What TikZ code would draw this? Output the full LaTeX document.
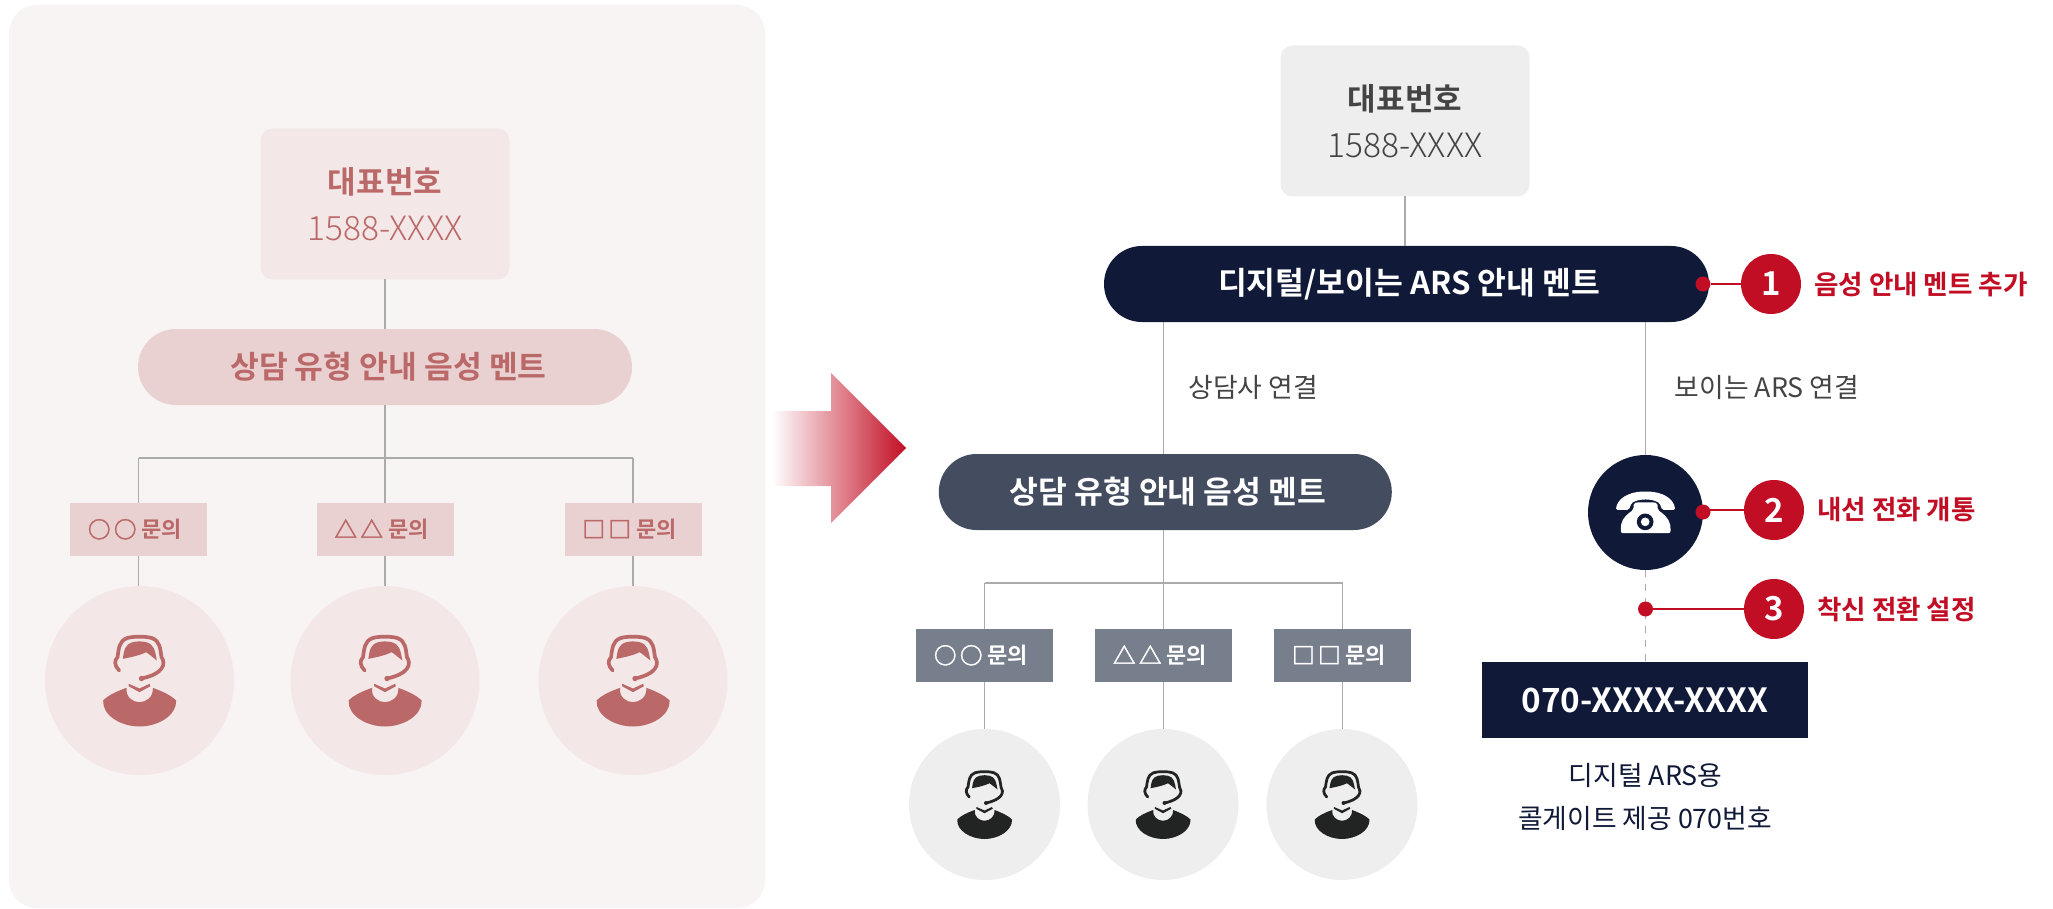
\documentclass[tikz,border=0pt]{standalone}
\usepackage{fontspec}
\setmainfont[BoldFont={Noto Sans CJK KR Bold}]{Noto Sans CJK KR}
\newfontfamily\lightfont{Noto Sans CJK KR Light}
\newfontfamily\symbolfont[FakeBold=1.5]{Noto Sans CJK KR}
\definecolor{panelbg}{HTML}{F8F4F3}
\definecolor{softbox}{HTML}{F3E7E7}
\definecolor{softpill}{HTML}{E9D1D1}
\definecolor{rosetext}{HTML}{BA6868}
\definecolor{linegray}{HTML}{ABABAB}
\definecolor{greybox}{HTML}{EEEEEE}
\definecolor{darktext}{HTML}{444444}
\definecolor{navy}{HTML}{101A38}
\definecolor{slate}{HTML}{434D5F}
\definecolor{slatebox}{HTML}{777E8C}
\definecolor{icondark}{HTML}{222423}
\definecolor{accent}{HTML}{C20E24}
\newcommand{\fs}[1]{\fontsize{#1}{#1}\selectfont}
\newcommand{\tagtext}[2]{{\symbolfont\fs{22.7}#1\hspace{3.3pt}#1}\hspace{5pt}#2\hspace*{7pt}}
\newcommand{\numbertext}{{\lightfont\fs{33.5}1588-XXXX}}
\tikzset{
  plainbox/.style={inner sep=0pt,outer sep=0pt,align=center},
  mainbox/.style={plainbox,rounded corners=12pt,minimum width=249pt,minimum height=151pt,font=\fontsize{31}{49}\selectfont},
  headpill/.style={plainbox,rounded corners=37.9pt,minimum height=76pt,font=\bfseries\fs{31.3}},
  tagbox/.style={plainbox,minimum width=137pt,minimum height=53pt,font=\bfseries\fs{22}},
  agentdisc/.style={circle,plainbox},
  connect/.style={draw=linegray,line width=1.3pt},
  dotmark/.style={circle,fill=accent,inner sep=0pt,outer sep=0pt,minimum size=15pt},
  numdisc/.style={circle,fill=accent,text=white,inner sep=0pt,outer sep=0pt,minimum size=60pt,font=\bfseries\fs{33}},
  redlabel/.style={inner sep=0pt,outer sep=0pt,anchor=west,text=accent,font=\bfseries\fs{26.6}},
  redline/.style={draw=accent,line width=2pt},
  graytext/.style={inner sep=0pt,text=darktext,font=\fs{26.8}},
}
\newcommand{\agentglyph}[3]{%
\begin{scope}[shift={(#1.center)},x=#2pt,y=-#2pt,fill=#3,draw=#3]
  \fill (-39,22) .. controls (-70,33) and (-95,45) .. (-109,60) .. controls (-112,105) and (-55,138) .. (0,138) .. controls (55,138) and (112,105) .. (110,60) .. controls (95,45) and (70,33) .. (40,22) .. controls (42,50) and (20,65) .. (0,65) .. controls (-20,65) and (-42,50) .. (-39,22) -- cycle;
  \fill (-32,10) -- (0,24) -- (30,10) -- (33,17) -- (0,35) -- (-33,17) -- cycle;
  \fill (-50,-65) .. controls (-46,-92) and (-44,-108) .. (-20,-115) .. controls (-5,-118) and (5,-118) .. (20,-115) .. controls (44,-108) and (46,-92) .. (52,-60) .. controls (40,-70) and (30,-78) .. (20,-85) .. controls (0,-75) and (-25,-70) .. (-50,-65) -- cycle;
  \draw[line width=#2*11pt,line cap=round] (-61,-30) .. controls (-76,-45) and (-76,-60) .. (-66,-70) .. controls (-62,-95) and (-62,-118) .. (-38,-127) .. controls (-20,-133) and (20,-133) .. (38,-127) .. controls (62,-118) and (62,-95) .. (66,-70) .. controls (80,-50) and (72,-20) .. (6,-6);
  \fill (6,-6) circle (8);
\end{scope}}
\begin{document}
\begin{tikzpicture}[x=1pt,y=-1pt]
\useasboundingbox (0,0) rectangle (2053,909);
\fill[white] (0,0) rectangle (2053,909);
\fill[panelbg,rounded corners=28pt] (9,5) rectangle (765,908);
% left diagram
\node[mainbox,fill=softbox,text=rosetext] (lmain) at (385,204) {\textbf{대표번호}\\[-2pt]\numbertext};
\node[headpill,fill=softpill,text=rosetext,minimum width=494pt] (lpill) at (385,367) {\hspace*{7pt}상담 유형 안내 음성 멘트};
\node[tagbox,fill=softpill,text=rosetext] (lt1) at (138.5,529.5) {\tagtext{○}{문의}};
\node[tagbox,fill=softpill,text=rosetext] (lt2) at (385,529.5) {\tagtext{△}{문의}};
\node[tagbox,fill=softpill,text=rosetext] (lt3) at (633,529.5) {\tagtext{□}{문의}};
\node[agentdisc,fill=softbox,minimum size=189pt] (la1) at (139.5,680.5) {};
\node[agentdisc,fill=softbox,minimum size=189pt] (la2) at (385,680.5) {};
\node[agentdisc,fill=softbox,minimum size=189pt] (la3) at (633,680.5) {};
\coordinate (lbus1) at (138.5,458);
\coordinate (lbus3) at (633,458);
\draw[connect] (lmain.south) -- (lpill.north -| lmain.south);
\draw[connect] (lpill.south) -- (lt2.north);
\draw[connect] (lbus1) -- (lbus3);
\draw[connect] (lbus1) -- (lt1.north);
\draw[connect] (lbus3) -- (lt3.north);
\draw[connect] (lt1.south) -- (la1.north -| lt1.south);
\draw[connect] (lt2.south) -- (la2.north);
\draw[connect] (lt3.south) -- (la3.north);
\agentglyph{la1}{0.3333}{rosetext}
\agentglyph{la2}{0.3333}{rosetext}
\agentglyph{la3}{0.3333}{rosetext}
% arrow
\shade[left color=white,right color=accent] (772,411) -- (831,411) -- (831,373) -- (906,448) -- (831,523) -- (831,486) -- (772,486) -- cycle;
% right diagram
\node[mainbox,fill=greybox,text=darktext] (rmain) at (1405,121) {\textbf{대표번호}\\[-2pt]\numbertext};
\node[headpill,fill=navy,text=white,minimum width=605pt] (rpill) at (1406.5,284) {\hspace*{5pt}디지털/보이는 ARS 안내 멘트};
\node[headpill,fill=slate,text=white,minimum width=453pt] (spill) at (1165.3,492) {\hspace*{5pt}상담 유형 안내 음성 멘트};
\node[tagbox,fill=slatebox,text=white] (rt1) at (984.5,655.5) {\tagtext{○}{문의}};
\node[tagbox,fill=slatebox,text=white] (rt2) at (1163.5,655.5) {\tagtext{△}{문의}};
\node[tagbox,fill=slatebox,text=white] (rt3) at (1342.5,655.5) {\tagtext{□}{문의}};
\node[agentdisc,fill=greybox,minimum size=151pt] (ra1) at (984.5,804.5) {};
\node[agentdisc,fill=greybox,minimum size=151pt] (ra2) at (1163,804.5) {};
\node[agentdisc,fill=greybox,minimum size=151pt] (ra3) at (1342,804.5) {};
\node[circle,fill=navy,inner sep=0pt,outer sep=0pt,minimum size=115pt] (tel) at (1645.5,512.5) {};
\node[plainbox,fill=navy,text=white,minimum width=326pt,minimum height=76pt,font=\bfseries\fs{33.3}] (dn) at (1645,700) {070-XXXX-XXXX};
\coordinate (rbus1) at (984.5,583);
\coordinate (rbus3) at (1342.5,583);
\draw[connect] (rmain.south) -- (rmain.south |- rpill.north);
\draw[connect] (rt2.north |- spill.north) -- (rt2.north |- rpill.south);
\draw[connect] (tel.north) -- (tel.north |- rpill.south);
\draw[connect] (rt2.north |- spill.south) -- (rt2.north);
\draw[connect] (rbus1) -- (rbus3);
\draw[connect] (rbus1) -- (rt1.north);
\draw[connect] (rbus3) -- (rt3.north);
\draw[connect] (rt1.south) -- (ra1.north -| rt1.south);
\draw[connect] (rt2.south) -- (ra2.north -| rt2.south);
\draw[connect] (rt3.south) -- (ra3.north -| rt3.south);
\draw[connect,dash pattern=on 7pt off 7pt] (tel.south) -- (dn.north -| tel.south);
\agentglyph{ra1}{0.25}{icondark}
\agentglyph{ra2}{0.25}{icondark}
\agentglyph{ra3}{0.25}{icondark}
% phone
\begin{scope}[shift={(tel.center)},x=0.3333pt,y=-0.3333pt]
  \fill[white,rounded corners=1.5pt] (89,-8) -- (50,-8) -- (42,-28) .. controls (20,-42) and (-20,-42) .. (-42,-28) -- (-50,-8) -- (-89,-8) .. controls (-85,-42) and (-50,-63) .. (0,-63) .. controls (50,-63) and (85,-42) .. (89,-8) -- cycle;
  \fill[white,rounded corners=2pt] (-74,62) -- (75,62) -- (75,42) .. controls (70,15) and (48,0) .. (36,-8) -- (36,-29) .. controls (15,-31) and (-15,-31) .. (-36,-29) -- (-36,-8) .. controls (-48,0) and (-70,15) .. (-74,42) -- cycle;
  \fill[navy] (-1,28) circle (25);
  \fill[white] (-1,28) circle (13);
\end{scope}
% callouts
\node[dotmark] (d1) at (1703,284) {};
\node[numdisc] (n1) at (1771,284) {1};
\node[redlabel] (l1) at (1814,285) {음성 안내 멘트 추가};
\draw[redline] (d1) -- (n1);
\node[dotmark] (d2) at (1703,512) {};
\node[numdisc] (n2) at (1774,510) {2};
\node[redlabel] (l2) at (1817,510) {내선 전화 개통};
\draw[redline] (d2.center |- n2.center) -- (n2);
\node[dotmark] (d3) at (1645.5,609) {};
\node[numdisc] (n3) at (1774,609) {3};
\node[redlabel] (l3) at (1817,609) {착신 전환 설정};
\draw[redline] (d3) -- (n3);
% captions
\node[graytext] (c1) at (1253,387) {상담사 연결};
\node[graytext] (c2) at (1767,387) {보이는 ARS 연결};
\node[graytext,text=navy] (c3) at (1645.5,775) {디지털 ARS용};
\node[graytext,text=navy] (c4) at (1645,818) {콜게이트 제공 070번호};
\end{tikzpicture}
\end{document}
